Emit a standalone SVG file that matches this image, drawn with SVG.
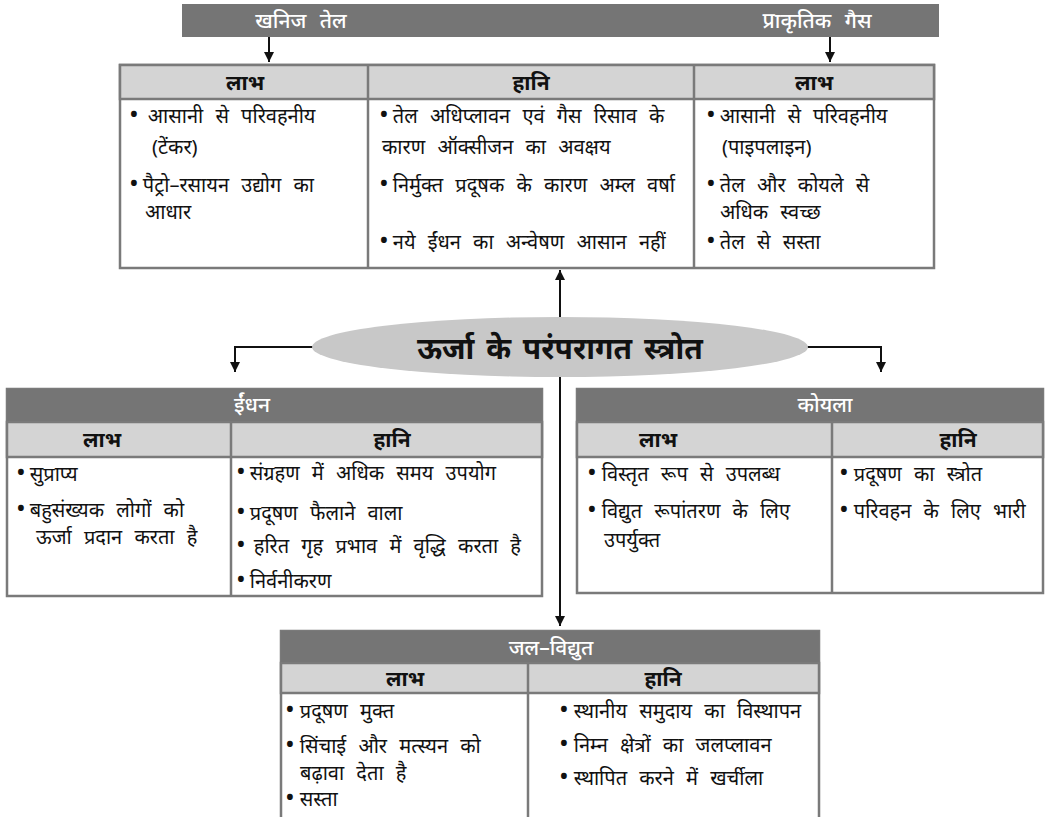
<svg xmlns="http://www.w3.org/2000/svg" width="1045" height="817" viewBox="0 0 1045 817">
<defs>
<marker id="ah" markerUnits="userSpaceOnUse" markerWidth="12" markerHeight="12" refX="10" refY="5" orient="auto">
<path d="M0,0 L10,5 L0,10 Z" fill="#111"/>
</marker>
<style>
text{font-family:"Noto Sans","Noto Sans Devanagari","Lohit Devanagari",FreeSans,sans-serif;}
.bar{fill:#757575;}
.hdr{fill:#d4d4d4;stroke:#7a7a7a;stroke-width:2.5;}
.box{fill:#fff;stroke:#7a7a7a;stroke-width:2.5;}
.div{stroke:#7a7a7a;stroke-width:2.5;}
.t{font-size:20px;fill:#111;word-spacing:7px;}
.b{font-size:26px;}
.h{font-size:21px;fill:#111;font-weight:bold;text-anchor:middle;}
.w{font-size:21px;fill:#fff;text-anchor:middle;word-spacing:8px;font-weight:500;}
.con{fill:none;stroke:#111;stroke-width:2;}
</style>
</defs>
<rect width="1045" height="817" fill="#fff"/>

<g id="connectors">
<path class="con" d="M269,37 V62" marker-end="url(#ah)"/>
<path class="con" d="M830,37 V62" marker-end="url(#ah)"/>
<path class="con" d="M560,318 V270" marker-end="url(#ah)"/>
<path class="con" d="M560,376 V626" marker-end="url(#ah)"/>
<path class="con" d="M313,347 H235 V372" marker-end="url(#ah)"/>
<path class="con" d="M807,347 H881 V372" marker-end="url(#ah)"/>
</g>

<g id="source-bar">
<rect class="bar" x="182" y="4" width="757" height="33"/>
<text class="w" x="301" y="28">खनिज तेल</text>
<text class="w" x="817" y="28">प्राकृतिक गैस</text>
</g>

<g id="oil-gas-table">
<rect class="box" x="120" y="65" width="814" height="203"/>
<rect class="hdr" x="120" y="65" width="814" height="34"/>
<line class="div" x1="368" y1="65" x2="368" y2="268"/>
<line class="div" x1="694" y1="65" x2="694" y2="268"/>
<text class="h" x="245" y="90">लाभ</text>
<text class="h" x="531" y="90">हानि</text>
<text class="h" x="814" y="90">लाभ</text>
<text class="t" x="129" y="123"><tspan class="b">•</tspan><tspan dx="9">आसानी से परिवहनीय</tspan></text>
<text class="t" x="152" y="154">(टेंकर)</text>
<text class="t" x="129" y="192"><tspan class="b">•</tspan><tspan dx="4">पैट्रो–रसायन उद्योग का</tspan></text>
<text class="t" x="145" y="219">आधार</text>
<text class="t" x="379" y="123"><tspan class="b">•</tspan><tspan dx="4">तेल अधिप्लावन एवं गैस रिसाव के</tspan></text>
<text class="t" x="382" y="154">कारण ऑक्सीजन का अवक्षय</text>
<text class="t" x="379" y="192"><tspan class="b">•</tspan><tspan dx="4">निर्मुक्त प्रदूषक के कारण अम्ल वर्षा</tspan></text>
<text class="t" x="379" y="249"><tspan class="b">•</tspan><tspan dx="4">नये ईंधन का अन्वेषण आसान नहीं</tspan></text>
<text class="t" x="706" y="123"><tspan class="b">•</tspan><tspan dx="4">आसानी से परिवहनीय</tspan></text>
<text class="t" x="722" y="154">(पाइपलाइन)</text>
<text class="t" x="706" y="192"><tspan class="b">•</tspan><tspan dx="4">तेल और कोयले से</tspan></text>
<text class="t" x="720" y="219">अधिक स्वच्छ</text>
<text class="t" x="706" y="249"><tspan class="b">•</tspan><tspan dx="4">तेल से सस्ता</tspan></text>
</g>

<g id="center-node">
<ellipse cx="560" cy="347" rx="248" ry="30" fill="#c8c8c8"/>
<text x="560" y="359" font-size="30" font-weight="bold" fill="#111" text-anchor="middle" word-spacing="4">ऊर्जा के परंपरागत स्त्रोत</text>
</g>

<g id="fuel-table">
<rect class="box" x="7" y="389" width="535" height="207"/>
<rect class="bar" x="7" y="389" width="535" height="33"/>
<rect class="hdr" x="7" y="422" width="535" height="35"/>
<line class="div" x1="231" y1="422" x2="231" y2="596"/>
<text class="w" x="252" y="412">ईंधन</text>
<text class="h" x="102" y="447">लाभ</text>
<text class="h" x="392" y="447">हानि</text>
<text class="t" x="16" y="481"><tspan class="b">•</tspan><tspan dx="4">सुप्राप्य</tspan></text>
<text class="t" x="16" y="517"><tspan class="b">•</tspan><tspan dx="4">बहुसंख्यक लोगों को</tspan></text>
<text class="t" x="36" y="544">ऊर्जा प्रदान करता है</text>
<text class="t" x="236" y="480"><tspan class="b">•</tspan><tspan dx="4">संग्रहण में अधिक समय उपयोग</tspan></text>
<text class="t" x="236" y="520"><tspan class="b">•</tspan><tspan dx="4">प्रदूषण फैलाने वाला</tspan></text>
<text class="t" x="236" y="553"><tspan class="b">•</tspan><tspan dx="8">हरित गृह प्रभाव में वृद्धि करता है</tspan></text>
<text class="t" x="236" y="588"><tspan class="b">•</tspan><tspan dx="4">निर्वनीकरण</tspan></text>
</g>

<g id="coal-table">
<rect class="box" x="577" y="389" width="466" height="204"/>
<rect class="bar" x="577" y="389" width="466" height="33"/>
<rect class="hdr" x="577" y="422" width="466" height="35"/>
<line class="div" x1="832" y1="422" x2="832" y2="593"/>
<text class="w" x="825" y="412">कोयला</text>
<text class="h" x="658" y="447">लाभ</text>
<text class="h" x="958" y="447">हानि</text>
<text class="t" x="587" y="481"><tspan class="b">•</tspan><tspan dx="5">विस्तृत रूप से उपलब्ध</tspan></text>
<text class="t" x="587" y="518"><tspan class="b">•</tspan><tspan dx="5">विद्युत रूपांतरण के लिए</tspan></text>
<text class="t" x="604" y="547">उपर्युक्त</text>
<text class="t" x="839" y="481"><tspan class="b">•</tspan><tspan dx="5">प्रदूषण का स्त्रोत</tspan></text>
<text class="t" x="839" y="518"><tspan class="b">•</tspan><tspan dx="5">परिवहन के लिए भारी</tspan></text>
</g>

<g id="hydro-table">
<rect class="box" x="281" y="631" width="538" height="200"/>
<rect class="bar" x="281" y="631" width="538" height="32"/>
<rect class="hdr" x="281" y="663" width="538" height="30"/>
<line class="div" x1="528" y1="663" x2="528" y2="831"/>
<text class="w" x="551" y="655">जल–विद्युत</text>
<text class="h" x="405" y="686">लाभ</text>
<text class="h" x="663" y="686">हानि</text>
<text class="t" x="285" y="718"><tspan class="b">•</tspan><tspan dx="5">प्रदूषण मुक्त</tspan></text>
<text class="t" x="285" y="753"><tspan class="b">•</tspan><tspan dx="5">सिंचाई और मत्स्यन को</tspan></text>
<text class="t" x="300" y="780">बढ़ावा देता है</text>
<text class="t" x="285" y="806"><tspan class="b">•</tspan><tspan dx="5">सस्ता</tspan></text>
<text class="t" x="559" y="718"><tspan class="b">•</tspan><tspan dx="5">स्थानीय समुदाय का विस्थापन</tspan></text>
<text class="t" x="559" y="752"><tspan class="b">•</tspan><tspan dx="5">निम्न क्षेत्रों का जलप्लावन</tspan></text>
<text class="t" x="559" y="785"><tspan class="b">•</tspan><tspan dx="5">स्थापित करने में खर्चीला</tspan></text>
</g>
</svg>
